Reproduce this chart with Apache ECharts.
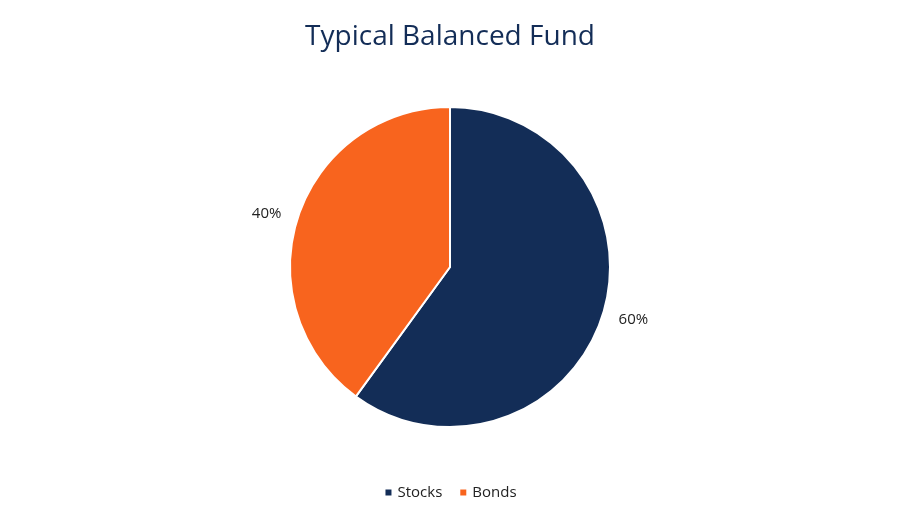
<!DOCTYPE html>
<html>
<head>
<meta charset="utf-8">
<script src="https://cdn.jsdelivr.net/npm/echarts@6/dist/echarts.min.js"></script>
<style>html,body{margin:0;padding:0;background:#fff}#chart{width:900px;height:525px}</style>
</head>
<body>
<div id="chart"></div>
<script>
const categories = ['Stocks', 'Bonds']
const values = [60, 40]
const colors = ['#132d57', '#f8641e']

const myChart = echarts.init(document.getElementById('chart'))

const pieData = categories.map((name, i) => ({
	name: name,
	value: values[i],
	itemStyle: {color: colors[i]}
}))

const option = {
	textStyle: {fontFamily: 'Open Sans'},
	title: {
		text: 'Typical Balanced Fund',
		left: 'center',
		top: 18,
		textStyle: {fontSize: 28, fontWeight: 'normal', color: '#132d57', fontFamily: 'Open Sans'}
	},
	legend: {
		bottom: 20,
		left: 'center',
		icon: 'rect',
		itemWidth: 8,
		itemHeight: 8,
		itemGap: 16,
		textStyle: {fontSize: 15, color: '#222'},
		data: categories
	},
	series: [{
		type: 'pie',
		center: [450, 267],
		radius: 160,
		startAngle: 90,
		clockwise: true,
		itemStyle: {borderColor: '#fff', borderWidth: 2},
		label: {
			show: true,
			position: 'outside',
			formatter: '{c}%',
			fontSize: 15,
			color: '#222'
		},
		labelLine: {show: false, length: 12, length2: 0},
		emphasis: {disabled: true},
		data: pieData
	}]
}

myChart.setOption(option)
</script>
</body>
</html>
